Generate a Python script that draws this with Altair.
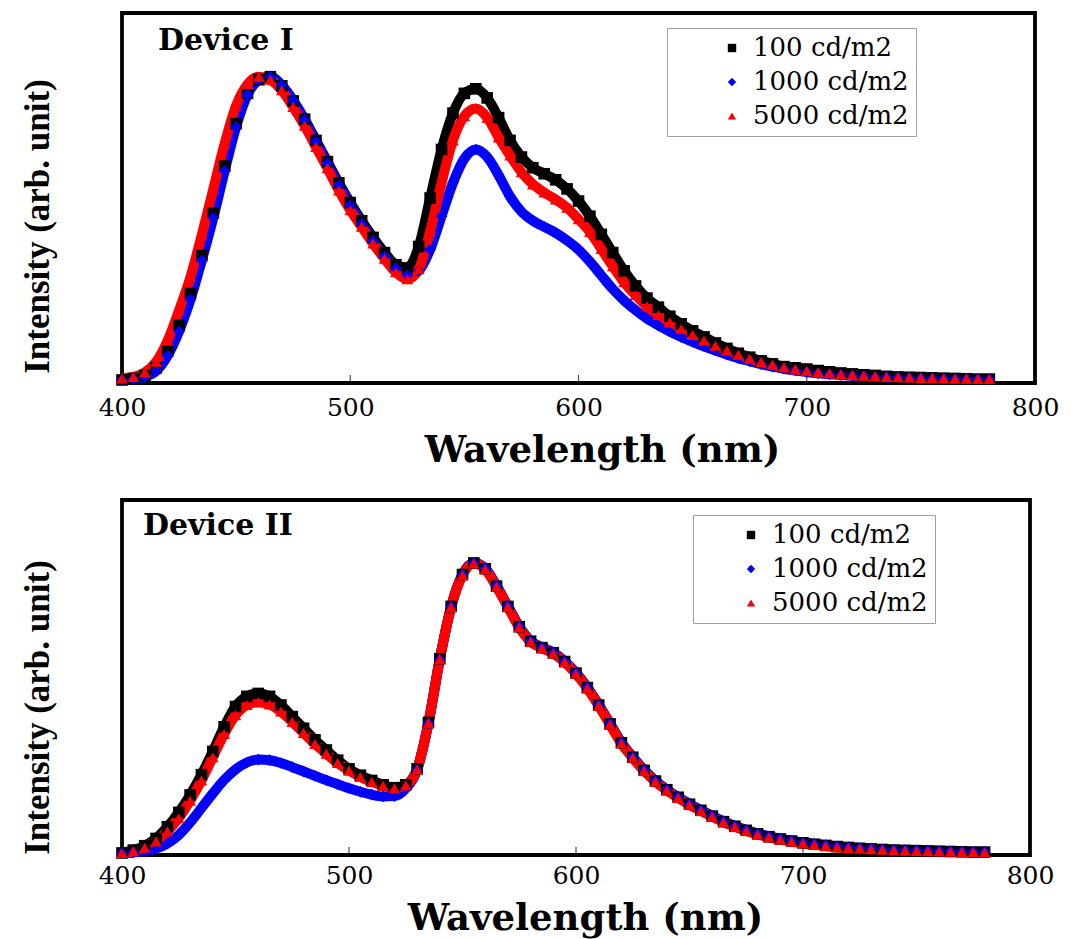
import altair as alt
import pandas as pd

# ---------------- data ----------------
WAVELENGTH = list(range(400, 781, 5))          # nm, sampling grid of the read values
SERIES = ["100 cd/m2", "1000 cd/m2", "5000 cd/m2"]
COLORS = ["#000000", "#0000ff", "#ff0000"]
SHAPES = ["square", "diamond", "triangle-up"]
X_TICKS = [400, 500, 600, 700, 800]

# Device I
dev1_100 = [
    0.000, 0.005, 0.015, 0.040, 0.095, 0.180, 0.285, 0.410, 0.550, 0.705,
    0.845, 0.945, 0.990, 1.000, 0.970, 0.920, 0.860, 0.790, 0.720, 0.650,
    0.585, 0.525, 0.470, 0.420, 0.380, 0.370, 0.440, 0.600, 0.760, 0.880,
    0.945, 0.960, 0.930, 0.865, 0.790, 0.735, 0.700, 0.680, 0.660, 0.630,
    0.590, 0.540, 0.480, 0.420, 0.360, 0.310, 0.270, 0.240, 0.210, 0.185,
    0.162, 0.142, 0.122, 0.104, 0.088, 0.075, 0.063, 0.053, 0.044, 0.040,
    0.036, 0.031, 0.027, 0.023, 0.020, 0.017, 0.015, 0.012, 0.010, 0.009,
    0.008, 0.007, 0.006, 0.005, 0.004, 0.003, 0.003,
]
dev1_1000 = [
    0.000, 0.003, 0.010, 0.030, 0.080, 0.160, 0.265, 0.395, 0.535, 0.690,
    0.835, 0.940, 0.990, 1.000, 0.972, 0.922, 0.858, 0.786, 0.714, 0.642,
    0.576, 0.515, 0.458, 0.408, 0.368, 0.345, 0.360, 0.430, 0.540, 0.650,
    0.730, 0.760, 0.735, 0.675, 0.605, 0.555, 0.525, 0.505, 0.485, 0.460,
    0.430, 0.390, 0.345, 0.300, 0.262, 0.230, 0.202, 0.180, 0.160, 0.142,
    0.126, 0.111, 0.097, 0.084, 0.072, 0.062, 0.052, 0.044, 0.037, 0.031,
    0.026, 0.022, 0.019, 0.016, 0.014, 0.012, 0.010, 0.009, 0.008, 0.007,
    0.006, 0.005, 0.004, 0.004, 0.003, 0.003, 0.002,
]
dev1_5000 = [
    0.005, 0.010, 0.025, 0.060, 0.130, 0.230, 0.340, 0.480, 0.630, 0.780,
    0.905, 0.975, 1.000, 0.990, 0.955, 0.900, 0.838, 0.768, 0.698, 0.625,
    0.560, 0.505, 0.450, 0.400, 0.355, 0.332, 0.365, 0.490, 0.650, 0.790,
    0.870, 0.895, 0.865, 0.800, 0.740, 0.685, 0.645, 0.618, 0.595, 0.568,
    0.530, 0.488, 0.432, 0.375, 0.322, 0.280, 0.243, 0.214, 0.190, 0.168,
    0.148, 0.130, 0.113, 0.097, 0.083, 0.070, 0.059, 0.050, 0.042, 0.035,
    0.030, 0.025, 0.022, 0.019, 0.016, 0.014, 0.012, 0.010, 0.009, 0.008,
    0.007, 0.006, 0.005, 0.004, 0.004, 0.003, 0.003,
]

# Device II
dev2_100 = [
    0.000, 0.010, 0.025, 0.050, 0.090, 0.140, 0.200, 0.270, 0.350, 0.435,
    0.505, 0.540, 0.550, 0.540, 0.510, 0.470, 0.430, 0.390, 0.355, 0.320,
    0.290, 0.268, 0.250, 0.235, 0.225, 0.235, 0.290, 0.450, 0.670, 0.850,
    0.960, 1.000, 0.980, 0.920, 0.850, 0.780, 0.730, 0.708, 0.690, 0.660,
    0.620, 0.570, 0.510, 0.445, 0.380, 0.330, 0.285, 0.248, 0.218, 0.192,
    0.168, 0.147, 0.127, 0.108, 0.092, 0.078, 0.066, 0.056, 0.048, 0.041,
    0.035, 0.030, 0.026, 0.022, 0.019, 0.016, 0.014, 0.012, 0.010, 0.009,
    0.008, 0.007, 0.006, 0.005, 0.004, 0.003, 0.003,
]
dev2_1000 = [
    0.000, 0.002, 0.006, 0.015, 0.033, 0.062, 0.105, 0.155, 0.205, 0.252,
    0.288, 0.312, 0.322, 0.320, 0.310, 0.296, 0.281, 0.266, 0.251, 0.237,
    0.223, 0.211, 0.201, 0.195, 0.196, 0.222, 0.286, 0.447, 0.667, 0.849,
    0.960, 1.000, 0.982, 0.921, 0.851, 0.781, 0.731, 0.709, 0.691, 0.661,
    0.621, 0.571, 0.511, 0.446, 0.381, 0.331, 0.286, 0.249, 0.219, 0.193,
    0.169, 0.148, 0.128, 0.109, 0.093, 0.079, 0.067, 0.057, 0.049, 0.042,
    0.036, 0.031, 0.027, 0.023, 0.020, 0.017, 0.015, 0.013, 0.011, 0.010,
    0.009, 0.008, 0.007, 0.006, 0.005, 0.004, 0.004,
]
dev2_5000 = [
    0.000, 0.006, 0.018, 0.040, 0.075, 0.120, 0.180, 0.250, 0.330, 0.410,
    0.475, 0.510, 0.520, 0.512, 0.488, 0.452, 0.414, 0.376, 0.342, 0.310,
    0.284, 0.262, 0.245, 0.232, 0.223, 0.233, 0.288, 0.448, 0.668, 0.848,
    0.958, 0.998, 0.978, 0.918, 0.848, 0.778, 0.728, 0.706, 0.688, 0.658,
    0.618, 0.568, 0.508, 0.443, 0.378, 0.328, 0.283, 0.246, 0.216, 0.190,
    0.166, 0.145, 0.125, 0.106, 0.090, 0.076, 0.064, 0.054, 0.046, 0.039,
    0.033, 0.028, 0.024, 0.020, 0.017, 0.015, 0.013, 0.011, 0.009, 0.008,
    0.007, 0.006, 0.005, 0.004, 0.003, 0.003, 0.002,
]


def make_df(series_values):
    rows = []
    for name, col, vals in zip(SERIES, COLORS, series_values):
        assert len(vals) == len(WAVELENGTH), (name, len(vals))
        for w, v in zip(WAVELENGTH, vals):
            rows.append({"wl": w, "I": v, "lum": name, "col": col})
    return pd.DataFrame(rows)


SERIF = "DejaVu Serif"
TIMES = "Liberation Serif"


def panel(df, label, width, height, ydom, title_y, xtitle_x, lab_pad,
          legend_x, legend_y, sym_off, label_x, label_y):
    xenc = alt.X(
        "wl:Q",
        scale=alt.Scale(domain=[400, 800], nice=False, zero=False),
        axis=alt.Axis(
            values=X_TICKS, title="Wavelength (nm)", format="d",
            domain=False, ticks=False, grid=False,
            labelFont=SERIF, labelFontSize=25, labelColor="black",
            labelPadding=lab_pad, labelFlush=False,
            titleFont=SERIF, titleFontSize=37, titleFontWeight="bold",
            titleColor="black", titlePadding=12, titleX=xtitle_x,
        ),
    )
    yenc = alt.Y(
        "I:Q",
        scale=alt.Scale(domain=ydom, nice=False, zero=False),
        axis=alt.Axis(
            title="Intensity (arb. unit)", labels=False, ticks=False,
            domain=False, grid=False,
            titleFont=TIMES, titleFontSize=35, titleFontWeight="bold",
            titleColor="black", titlePadding=67, titleY=title_y,
        ),
    )
    legend = alt.Legend(
        title=None, orient="none", legendX=legend_x, legendY=legend_y,
        fillColor="white", strokeColor="#a0a0a0", padding=7,
        symbolOffset=sym_off, labelOffset=8, symbolSize=70, symbolStrokeWidth=0,
        labelFont=SERIF, labelFontSize=26, labelColor="black", rowPadding=8,
    )
    base = alt.Chart(df)
    lines = base.mark_line(strokeWidth=10, interpolate="monotone").encode(
        x=xenc, y=yenc,
        color=alt.Color("col:N", scale=None),
        detail="lum:N",
    )
    pts = base.mark_point(filled=True, size=135, opacity=1).encode(
        x=xenc, y=yenc,
        color=alt.Color("lum:N", scale=alt.Scale(domain=SERIES, range=COLORS),
                        legend=legend),
        shape=alt.Shape("lum:N", scale=alt.Scale(domain=SERIES, range=SHAPES),
                        legend=legend),
    )
    ticks = alt.Chart(pd.DataFrame({"wl": X_TICKS})).mark_tick(
        orient="vertical", size=16, thickness=1.2, color="black", clip=True
    ).encode(x=alt.X("wl:Q"), y=alt.datum(ydom[0]))
    name = alt.Chart(pd.DataFrame({"label": [label]})).mark_text(
        align="left", baseline="top", font=SERIF, fontSize=30,
        fontWeight="bold", color="black",
    ).encode(text="label:N", x=alt.value(label_x), y=alt.value(label_y))
    return alt.layer(lines, pts, ticks, name).properties(width=width, height=height)


top = panel(make_df([dev1_100, dev1_1000, dev1_5000]), "Device I",
            width=913, height=370, ydom=[-0.01, 1.21],
            title_y=213, xtitle_x=480, lab_pad=12,
            legend_x=545, legend_y=15, sym_off=45,
            label_x=36, label_y=13)
bottom = panel(make_df([dev2_100, dev2_1000, dev2_5000]), "Device II",
               width=908, height=355, ydom=[-0.007, 1.217],
               title_y=207, xtitle_x=463, lab_pad=8,
               legend_x=571, legend_y=15, sym_off=38,
               label_x=21, label_y=11)

chart = alt.concat(top, bottom, columns=1, spacing=28).properties(
    padding={"left": 18, "top": 11, "right": 5, "bottom": 5},
    background="white",
).configure_view(
    stroke="black", strokeWidth=3.8
).resolve_scale(color="independent", shape="independent")

chart.save("out.html", embed_options={"renderer": "svg", "actions": False})
